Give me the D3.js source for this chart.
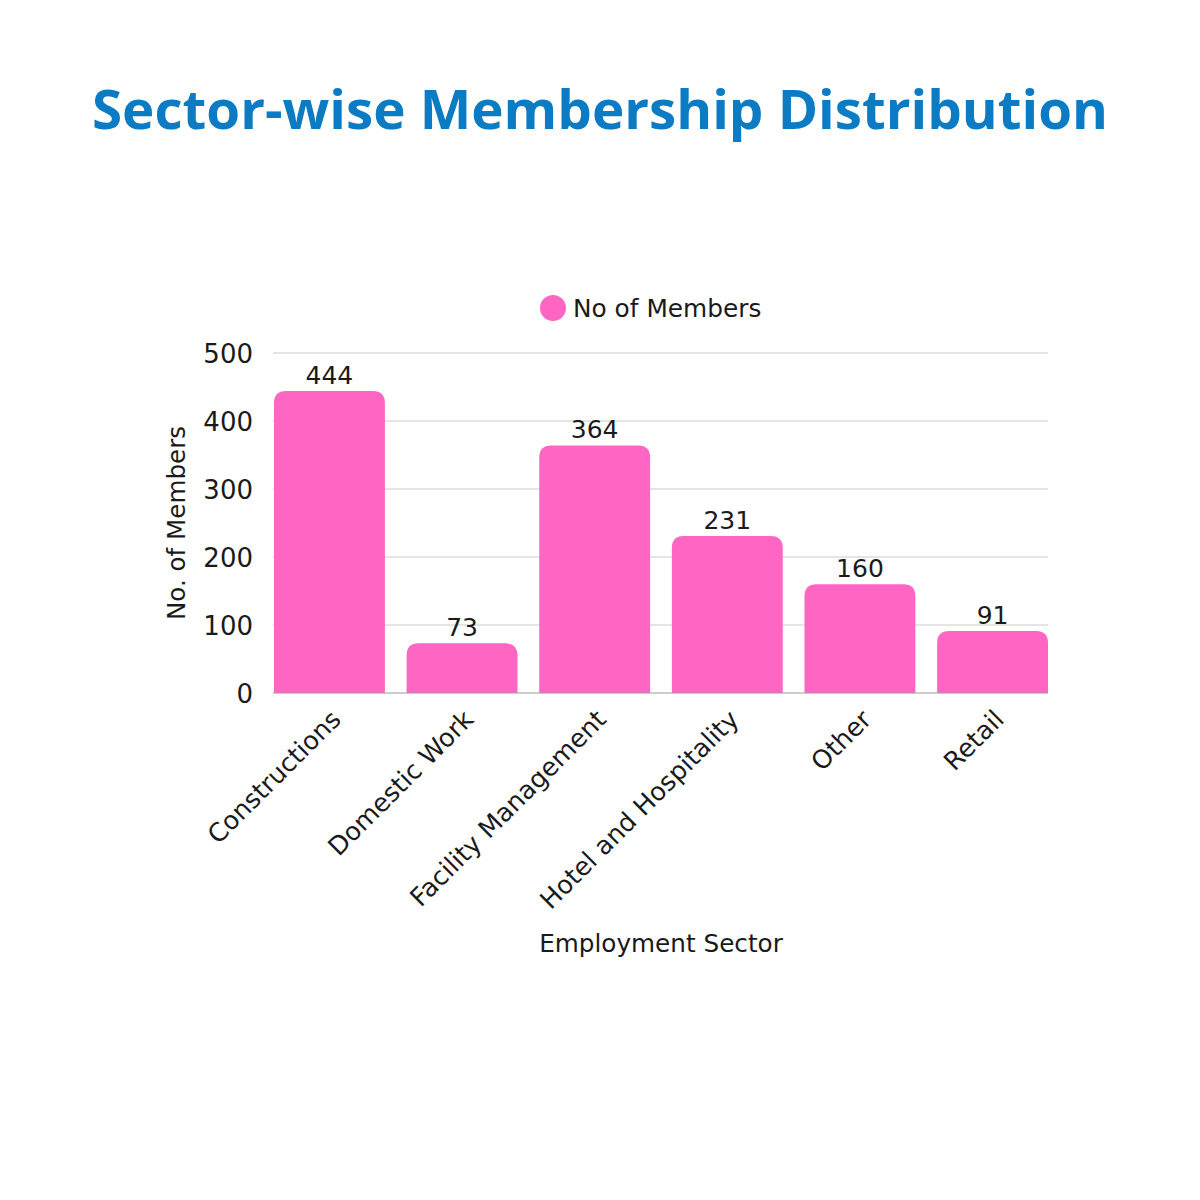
<!DOCTYPE html>
<html><head><meta charset="utf-8">
<script src="https://cdn.jsdelivr.net/npm/d3@7"></script>
<style>body{margin:0;background:#fff}</style>
</head><body>
<svg id="c" width="1200" height="1200"></svg>
<script>
const categories = ["Constructions","Domestic Work","Facility Management","Hotel and Hospitality","Other","Retail"];
const members = [444, 73, 364, 231, 160, 91];
const yTicks = [0,100,200,300,400,500];
const seriesName = "No of Members";

const svg = d3.select("#c");
const font = "'DejaVu Sans', Verdana, sans-serif";
const pink = "#ff66c4";
const ink = "#1a1a1a";

svg.append("rect").attr("width",1200).attr("height",1200).attr("fill","#fff");

svg.append("text").attr("x",600).attr("y",129).attr("text-anchor","middle")
  .attr("font-family","'Open Sans', Lato, sans-serif").attr("font-weight",700)
  .attr("font-size",54).attr("fill","#0b7bc4").attr("textLength",1016).attr("lengthAdjust","spacingAndGlyphs")
  .text("Sector-wise Membership Distribution");

const x = d3.scaleBand().domain(categories).range([274,1048]).paddingInner(0.164).paddingOuter(0);
const y = d3.scaleLinear().domain([0,500]).range([693,353]);

// gridlines
svg.append("g").selectAll("line").data(yTicks.filter(t=>t>0)).join("line")
  .attr("x1",273).attr("x2",1048).attr("y1",d=>y(d)).attr("y2",d=>y(d))
  .attr("stroke","#cccccc").attr("stroke-width",1.2);

// y tick labels
const yAxis = d3.axisLeft(y).tickValues(yTicks).tickSize(0).tickPadding(0);
const ga = svg.append("g").attr("transform","translate(253,0)").call(yAxis);
ga.select(".domain").remove();
ga.selectAll("text").attr("font-family",font).attr("font-size",26).attr("fill",ink).attr("dy","0.36em");

// bars with rounded top corners
const r = 12;
function barPath(x0,w,yt,yb){
  return `M${x0},${yb}V${yt+r}Q${x0},${yt} ${x0+r},${yt}H${x0+w-r}Q${x0+w},${yt} ${x0+w},${yt+r}V${yb}Z`;
}
svg.append("g").selectAll("path").data(categories).join("path")
  .attr("d",(d,i)=>barPath(x(d),x.bandwidth(),y(members[i]),y(0)))
  .attr("fill",pink);

// baseline
svg.append("line").attr("x1",273).attr("x2",1048).attr("y1",y(0)).attr("y2",y(0))
  .attr("stroke","#999").attr("stroke-width",1.2);

// value labels
svg.append("g").selectAll("text").data(categories).join("text")
  .attr("x",d=>x(d)+x.bandwidth()/2).attr("y",(d,i)=>y(members[i])-7)
  .attr("text-anchor","middle").attr("font-family",font).attr("font-size",25).attr("fill",ink)
  .text((d,i)=>members[i]);

// x labels
const xAxis = d3.axisBottom(x).tickSize(0).tickPadding(0);
const gx = svg.append("g").attr("transform","translate(0,693)").call(xAxis);
gx.select(".domain").remove();
gx.selectAll("text").attr("font-family",font).attr("font-size",25.5).attr("fill",ink)
  .attr("text-anchor","end").attr("dy",0).attr("y",0)
  .attr("transform","translate(13,28) rotate(-45)");

// axis titles
svg.append("text").attr("transform","translate(185,523) rotate(-90)").attr("text-anchor","middle")
  .attr("font-family",font).attr("font-size",24.6).attr("fill",ink).text("No. of Members");
svg.append("text").attr("x",661).attr("y",952).attr("text-anchor","middle")
  .attr("font-family",font).attr("font-size",24.7).attr("fill",ink).text("Employment Sector");

// legend
svg.append("circle").attr("cx",553).attr("cy",308).attr("r",13).attr("fill",pink);
svg.append("text").attr("x",573).attr("y",317).attr("font-family",font).attr("font-size",24.8).attr("fill",ink).text(seriesName);
</script>
</body></html>
